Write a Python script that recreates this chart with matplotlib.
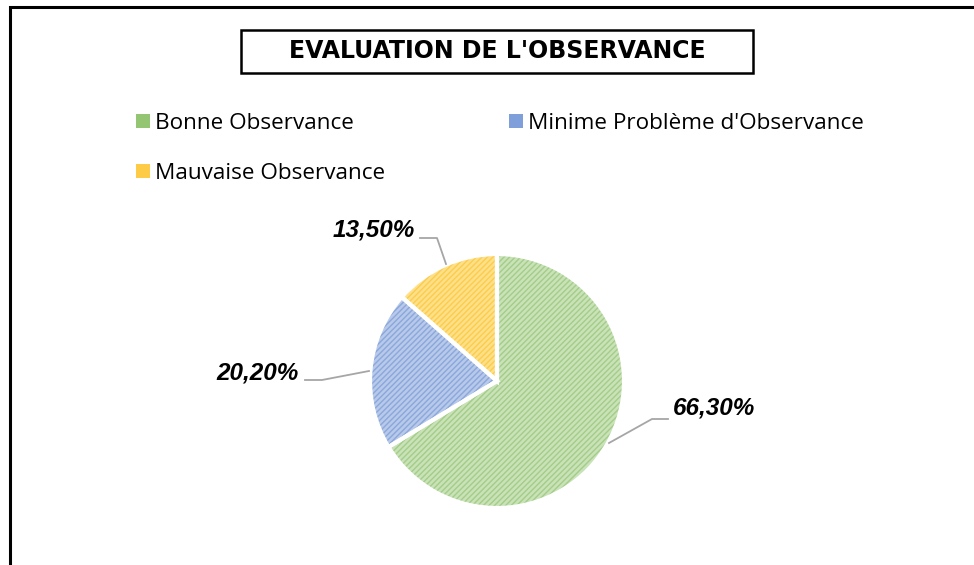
import os
import matplotlib.pyplot as plt
from matplotlib import font_manager as fm
from matplotlib.patches import Rectangle, Patch

labels = ["Bonne Observance", "Minime Problème d'Observance", "Mauvaise Observance"]
values = [66.30, 20.20, 13.50]
value_labels = ["66,30%", "20,20%", "13,50%"]
fill_colors = ["#c9e2b8", "#b8c9ea", "#ffe08a"]
hatch_colors = ["#a3cd88", "#8aa8dc", "#fccd4a"]
legend_colors = ["#93c572", "#7e9fd9", "#fdcb45"]

# Arial-like bold italic (avoid the Narrow variant)
lab_fp = fm.FontProperties(family="DejaVu Sans", weight="bold", style="italic", size=15.5)
for f in fm.fontManager.ttflist:
    if os.path.basename(f.fname).lower() == "liberationsans-bolditalic.ttf":
        lab_fp = fm.FontProperties(fname=f.fname, size=17.5)
        break

W, H = 974, 565
fig = plt.figure(figsize=(W / 100, H / 100), dpi=100)
ax = fig.add_axes([0, 0, 1, 1])

cx, cy, r = 497, H - 381, 127
# hatched fill
wedges, _ = ax.pie(values, startangle=90, counterclock=False, colors=fill_colors,
                   center=(cx, cy), radius=r, frame=True,
                   wedgeprops=dict(linewidth=0))
for w, hc in zip(wedges, hatch_colors):
    w.set_hatch("//////")
    w.set_edgecolor(hc)
    w.set_linewidth(0)
# white separators on top
ax.pie(values, startangle=90, counterclock=False, colors=["none"] * 3,
       center=(cx, cy), radius=r, frame=True,
       wedgeprops=dict(linewidth=3, edgecolor="white", fill=False))
ax.set_xlim(0, W)
ax.set_ylim(0, H)
ax.set_aspect("equal")
ax.axis("off")

# outer chart frame (cropped at right/bottom)
ax.add_patch(Rectangle((10, -20), W + 20, H - 7 + 20, fill=False, lw=2.2, ec="black"))

# data labels with leader lines
lead = dict(color="#a6a6a6", lw=1.3)
ax.text(673, H - 408, value_labels[0], ha="left", va="center", fontproperties=lab_fp)
ax.plot([609, 652, 668], [H - 443, H - 419, H - 419], **lead)
ax.text(299, H - 373, value_labels[1], ha="right", va="center", fontproperties=lab_fp)
ax.plot([305, 322, 369], [H - 380, H - 380, H - 371], **lead)
ax.text(415, H - 230, value_labels[2], ha="right", va="center", fontproperties=lab_fp)
ax.plot([420, 437, 446], [H - 238, H - 238, H - 264], **lead)

# title in box
ax.add_patch(Rectangle((241, H - 73), 512, 43, fc="white", ec="black", lw=1.8))
ax.text(497, H - 51, "EVALUATION DE L'OBSERVANCE", ha="center", va="center",
        family="DejaVu Sans", weight="bold", fontsize=17)

# legend
order = [0, 2, 1]
handles = [Patch(facecolor=legend_colors[i], edgecolor="none") for i in order]
leg = ax.legend(handles, [labels[i] for i in order], ncol=2, frameon=False,
                loc="upper left", bbox_to_anchor=(127 / W, 1 - 104 / H),
                prop=dict(family="Open Sans", size=16.2),
                handlelength=0.6, handleheight=0.6, handletextpad=0.25,
                columnspacing=5.5, labelspacing=1.3, borderaxespad=0)

fig.savefig("out.png", dpi=100)
